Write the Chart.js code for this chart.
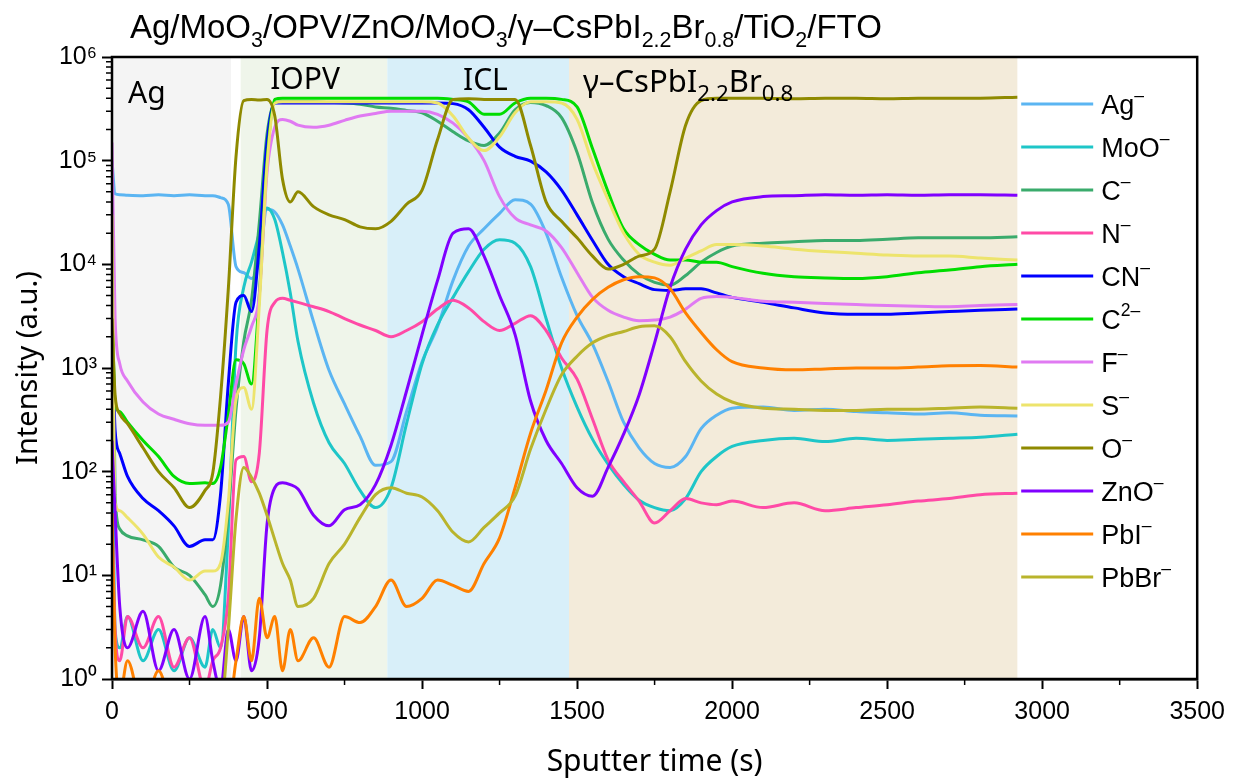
<!DOCTYPE html>
<html>
<head>
<meta charset="utf-8">
<title>ToF-SIMS depth profile</title>
<script src="https://cdn.jsdelivr.net/npm/chart.js@4.4.1/dist/chart.umd.min.js"></script>
<style>
  html, body { margin: 0; padding: 0; background: #fff; }
</style>
</head>
<body>
<canvas id="chart" width="1233" height="783"></canvas>
<script>
// sputter time (s) of every sample
const time = [0, 10, 25, 50,
  100, 150, 200, 250, 300,
  325, 350, 375, 400, 425, 450, 475, 500, 525, 550, 575, 600,
  650, 700, 750, 800, 850, 900, 950, 1000, 1050, 1100, 1150, 1200, 1250, 1300, 1350, 1400,
  1450, 1500, 1550, 1600, 1650, 1700, 1750, 1800, 1850, 1900, 1950, 2000,
  2100, 2200, 2300, 2400, 2500, 2600, 2700, 2800, 2920];

// counts per ion
const agIon = [1.0e5, 48000, 47000, 46500,
  46000, 47000, 46000, 47000, 46000,
  46000, 44000, 38000, 9500, 8300, 7300, 11000, 34000, 32000, 24000, 15000, 9000,
  2800, 950, 450, 220, 115, 125, 380, 1150, 2500, 7000, 15000, 22000, 31000, 42000, 38000, 20000,
  7500, 3200, 1700, 740, 300, 170, 120, 110, 140, 260, 350, 410,
  420, 390, 400, 380, 370, 360, 370, 350, 345];

const mooIon = [700, 3, 2, 4,
  1.5, 3, 1.2, 2.5, 1.3,
  3, 2, 27, 1700, 6000, 10500, 20000, 35000, 27000, 13000, 5300, 1800,
  460, 190, 120, 66, 45, 70, 290, 1100, 2600, 4800, 8500, 14000, 17300, 16000, 9500, 3000,
  1000, 420, 205, 118, 75, 53, 45, 42, 55, 100, 140, 175,
  200, 210, 195, 210, 200, 205, 210, 215, 230];

const cIon = [20000, 60, 28, 24,
  22, 19, 12, 10, 6.5,
  5, 8, 40, 400, 1800, 4500, 25000, 1.8e5, 3.6e5, 3.7e5, 3.7e5, 3.7e5,
  3.7e5, 3.65e5, 3.6e5, 3.5e5, 3.3e5, 3.2e5, 3.05e5, 2.9e5, 2.4e5, 1.9e5, 1.55e5, 1.4e5, 1.85e5, 3.1e5, 3.65e5, 3.4e5,
  2.6e5, 1.2e5, 39000, 17500, 11000, 8000, 6700, 6300, 7800, 10500, 13000, 15000,
  16000, 16500, 17000, 17000, 17500, 18000, 18000, 18000, 18500];

const nIon = [40, 3, 1.5, 4,
  2, 4, 1.3, 2.5, 0.8,
  1.5, 2, 6, 130, 140, 80, 150, 2300, 4300, 4700, 4500, 4300,
  3900, 3500, 3000, 2600, 2300, 2000, 2300, 2800, 3700, 4500, 3800, 2800, 2300, 2700, 3200, 2300,
  1250, 780, 320, 130, 80, 52, 32, 42, 55, 50, 48, 52,
  45, 50, 42, 45, 48, 52, 55, 60, 62];

const cnIon = [3000, 250, 150, 90,
  55, 42, 30, 19, 22,
  22, 60, 700, 4300, 5000, 3500, 15000, 1.5e5, 3.6e5, 3.6e5, 3.6e5, 3.6e5,
  3.6e5, 3.6e5, 3.6e5, 3.6e5, 3.6e5, 3.6e5, 3.6e5, 3.6e5, 3.6e5, 3.55e5, 3.1e5, 2.1e5, 1.35e5, 1.1e5, 9.9e4, 7.8e4,
  5.2e4, 3.0e4, 17000, 10000, 7600, 6500, 5700, 5600, 5800, 5800, 5300, 4800,
  4300, 3800, 3400, 3300, 3300, 3400, 3500, 3600, 3700];

const c2Ion = [5000, 450, 380, 300,
  200, 140, 90, 77, 78,
  77, 110, 350, 1200, 1100, 700, 5000, 1.0e5, 3.9e5, 4.0e5, 4.0e5, 4.0e5,
  4.0e5, 4.0e5, 4.0e5, 4.0e5, 4.0e5, 4.0e5, 4.0e5, 4.0e5, 4.0e5, 3.9e5, 3.7e5, 2.8e5, 2.8e5, 3.6e5, 4.0e5, 4.0e5,
  3.9e5, 3.3e5, 1.3e5, 50000, 22000, 15500, 12500, 11000, 11000, 10500, 10500, 9500,
  8200, 7600, 7400, 7300, 7600, 8300, 8800, 9500, 10000];

const fIon = [1.5e5, 3000, 1100, 750,
  470, 360, 320, 290, 280,
  280, 280, 300, 700, 1500, 2500, 5000, 7.7e4, 2.1e5, 2.5e5, 2.4e5, 2.2e5,
  2.1e5, 2.2e5, 2.45e5, 2.7e5, 2.85e5, 3.0e5, 3.0e5, 3.0e5, 2.8e5, 2.3e5, 1.65e5, 1.0e5, 45000, 28000, 24000, 21000,
  14500, 8300, 4800, 3600, 3100, 2850, 2900, 3100, 3700, 4700, 4900, 4800,
  4400, 4300, 4200, 4100, 4000, 3950, 3900, 4000, 4100];

const sIon = [30000, 50, 42, 36,
  25, 15, 12, 9, 11,
  11, 13, 50, 500, 650, 400, 4000, 9.0e4, 3.6e5, 3.7e5, 3.7e5, 3.7e5,
  3.7e5, 3.7e5, 3.7e5, 3.7e5, 3.7e5, 3.7e5, 3.7e5, 3.7e5, 3.6e5, 2.7e5, 1.65e5, 1.25e5, 1.7e5, 2.9e5, 3.7e5, 3.7e5,
  3.6e5, 2.5e5, 9.5e4, 42000, 20000, 12500, 10500, 9800, 11500, 13500, 15500, 15500,
  15000, 14000, 13300, 12800, 12300, 12000, 12000, 11500, 11000];

const oIon = [3000, 550, 360, 290,
  170, 100, 70, 45, 66,
  97, 525, 5700, 1.1e5, 3.8e5, 3.9e5, 3.85e5, 3.9e5, 2.7e5, 66000, 40000, 50000,
  36000, 30000, 27000, 23000, 22000, 26000, 38000, 52000, 1.6e5, 3.9e5, 3.95e5, 3.9e5, 3.9e5, 3.9e5, 1.4e5, 40000,
  26000, 18000, 12000, 9000, 10000, 12000, 14000, 50000, 2.2e5, 3.8e5, 4.0e5, 4.0e5,
  4.0e5, 3.95e5, 4.0e5, 4.0e5, 3.95e5, 4.0e5, 4.0e5, 4.0e5, 4.1e5];

const znoIon = [200, 40, 5, 2,
  4.5, 1.2, 3, 1, 4,
  1.5, 0.8, 3, 1.5, 4, 1.2, 2.5, 31, 70, 78, 75, 68,
  38, 30, 43, 48, 75, 180, 600, 2100, 7000, 20000, 22000, 12000, 5000, 2100, 480, 200,
  120, 70, 58, 110, 230, 550, 1750, 6000, 14000, 24000, 33000, 40000,
  45000, 46000, 47000, 46500, 47000, 46500, 47000, 47000, 46500];

const pbiIon = [40, 2, 0.7, 1.5,
  0.5, 1.2, 0.5, 0.8, 0.5,
  0.5, 0.6, 0.5, 1.5, 4, 1.5, 6, 2.5, 4, 1.2, 3, 1.5,
  2.5, 1.3, 4, 3.5, 5, 9, 5, 6, 9, 8, 7, 13, 23, 70, 235, 610,
  1750, 3100, 4600, 6000, 7100, 7600, 7400, 5800, 3400, 2200, 1500, 1150,
  1000, 960, 980, 1000, 1000, 1020, 1050, 1060, 1020];

const pbbrIon = [0.5, 0.5, 0.5, 0.5,
  0.5, 0.5, 0.5, 0.5, 0.5,
  0.5, 0.5, 3, 35, 110, 88, 62, 38, 22, 13, 9, 5,
  6, 13, 20, 36, 60, 70, 62, 57, 42, 26, 21, 29, 40, 58, 165, 400,
  860, 1300, 1750, 2050, 2250, 2500, 2550, 2000, 1150, 750, 560, 470,
  410, 400, 390, 390, 400, 400, 410, 420, 410];

// legend names and charges
const ionNames = ['Ag', 'MoO', 'C', 'N', 'CN', 'C', 'F', 'S', 'O', 'ZnO', 'PbI', 'PbBr'];
const ionCharges = ['–', '–', '–', '–', '–', '2–', '–', '–', '–', '–', '–', '–'];
const ionColors = ['#5bb5f2', '#1ec6c8', '#3aab6c', '#ff4aa6', '#0000ff', '#00dd00',
  '#e07af2', '#ede46c', '#8f8a00', '#8000ff', '#ff8000', '#b9b42c'];
const ionSeries = [agIon, mooIon, cIon, nIon, cnIon, c2Ion, fIon, sIon, oIon, znoIon, pbiIon, pbbrIon];

// layer bands (s)
const regionStart = [0, 415, 888, 1474];
const regionEnd = [384, 888, 1474, 2920];
const regionColor = ['#f4f4f4', '#eff5ea', '#d8eff9', '#f3ebda'];

const yTicks = [1, 10, 100, 1000, 10000, 100000, 1000000];
const supDigits = ['⁰', '¹', '²', '³', '⁴', '⁵', '⁶'];

const ARIAL = "'Liberation Sans', Arial, sans-serif";
const SEGOE = "'Noto Sans', 'Open Sans', sans-serif";

// draws text with sub (-1) / super (1) script parts
function drawRich(ctx, x, y, parts, size, family, scale) {
  const k = scale || 0.65;
  let cx = x;
  parts.forEach(([txt, mode]) => {
    const s = mode ? size * k : size;
    ctx.font = s + 'px ' + family;
    const dy = mode === -1 ? size * 0.28 : (mode === 1 ? -size * 0.5 : 0);
    ctx.fillText(txt, cx, y + dy);
    cx += ctx.measureText(txt).width;
  });
  return cx - x;
}

const regionPlugin = {
  id: 'regions',
  beforeDatasetsDraw(chart) {
    const { ctx, chartArea: a, scales: { x } } = chart;
    ctx.save();
    regionStart.forEach((s, i) => {
      const x0 = x.getPixelForValue(s);
      const x1 = x.getPixelForValue(regionEnd[i]);
      ctx.fillStyle = regionColor[i];
      ctx.fillRect(x0, a.top, x1 - x0, a.bottom - a.top);
    });
    ctx.restore();
  }
};

const decorPlugin = {
  id: 'decor',
  afterDraw(chart) {
    const { ctx, chartArea: a, scales: { x, y } } = chart;
    ctx.save();

    // frame
    ctx.strokeStyle = '#000';
    ctx.lineWidth = 2.5;
    ctx.strokeRect(a.left, a.top, a.right - a.left, a.bottom - a.top);

    // minor ticks
    ctx.lineWidth = 1.5;
    ctx.beginPath();
    for (let e = 0; e < 6; e++) {
      for (let m = 2; m <= 9; m++) {
        const py = y.getPixelForValue(m * Math.pow(10, e));
        ctx.moveTo(a.left - 6, py);
        ctx.lineTo(a.left, py);
      }
    }
    for (let t = 250; t < 3500; t += 500) {
      const px = x.getPixelForValue(t);
      ctx.moveTo(px, a.bottom);
      ctx.lineTo(px, a.bottom + 6);
    }
    ctx.stroke();

    // title
    ctx.fillStyle = '#000';
    ctx.textBaseline = 'alphabetic';
    drawRich(ctx, a.left + 18, a.top - 19, [
      ['Ag/MoO', 0], ['3', -1], ['/OPV/ZnO/MoO', 0], ['3', -1], ['/γ–CsPbI', 0], ['2.2', -1],
      ['Br', 0], ['0.8', -1], ['/TiO', 0], ['2', -1], ['/FTO', 0]
    ], 33, ARIAL);

    // layer labels
    drawRich(ctx, x.getPixelForValue(52), a.top + 46, [['Ag', 0]], 30, SEGOE);
    drawRich(ctx, x.getPixelForValue(510), a.top + 32, [['IOPV', 0]], 30, SEGOE);
    drawRich(ctx, x.getPixelForValue(1132), a.top + 33, [['ICL', 0]], 30, SEGOE);
    drawRich(ctx, x.getPixelForValue(1519), a.top + 35,
      [['γ–CsPbI', 0], ['2.2', -1], ['Br', 0], ['0.8', -1]], 31, SEGOE, 0.72);

    // legend
    ionNames.forEach((name, i) => {
      const ly = a.top + 47 + i * 43;
      ctx.strokeStyle = ionColors[i];
      ctx.lineWidth = 3;
      ctx.beginPath();
      ctx.moveTo(a.right - 176, ly);
      ctx.lineTo(a.right - 104, ly);
      ctx.stroke();
      ctx.fillStyle = '#000';
      drawRich(ctx, a.right - 96, ly + 10, [[name, 0], [ionCharges[i], 1]], 27, ARIAL);
    });

    ctx.restore();
  }
};

const datasets = ionSeries.map((vals, i) => ({
  label: ionNames[i] + ionCharges[i],
  data: time.map((t, j) => ({ x: t, y: vals[j] })),
  borderColor: ionColors[i],
  backgroundColor: ionColors[i],
  borderWidth: 3,
  pointRadius: 0,
  fill: false,
  cubicInterpolationMode: 'monotone',
  order: ionSeries.length - i
}));

new Chart(document.getElementById('chart'), {
  type: 'line',
  data: { datasets },
  options: {
    responsive: false,
    devicePixelRatio: 1,
    animation: false,
    layout: { padding: { left: 0, right: 35, top: 57, bottom: 0 } },
    plugins: {
      legend: { display: false },
      title: { display: false },
      tooltip: { enabled: false }
    },
    scales: {
      x: {
        type: 'linear',
        min: 0,
        max: 3500,
        afterFit: (s) => { s.height = 104; },
        ticks: {
          stepSize: 500,
          callback: (v) => String(v),
          font: { family: ARIAL, size: 25 },
          color: '#000',
          padding: 8,
          maxRotation: 0
        },
        grid: { drawOnChartArea: false, drawTicks: true, tickLength: 10, tickWidth: 2, tickColor: '#000' },
        border: { display: true, color: '#000', width: 2.5 },
        title: {
          display: true,
          text: 'Sputter time (s)',
          font: { family: SEGOE, size: 30 },
          color: '#000',
          padding: { top: 0, bottom: 3 }
        }
      },
      y: {
        type: 'logarithmic',
        min: 1,
        max: 1e6,
        afterFit: (s) => { s.width = 112; },
        afterBuildTicks: (s) => { s.ticks = yTicks.map((v) => ({ value: v })); },
        ticks: {
          autoSkip: false,
          callback: (v) => '10' + supDigits[Math.round(Math.log10(v))],
          font: { family: ARIAL, size: 25 },
          color: '#000',
          padding: 5
        },
        grid: { drawOnChartArea: false, drawTicks: true, tickLength: 10, tickWidth: 2, tickColor: '#000' },
        border: { display: true, color: '#000', width: 2.5 },
        title: {
          display: true,
          text: 'Intensity (a.u.)',
          font: { family: SEGOE, size: 29 },
          color: '#000',
          padding: { top: 11, bottom: 0 }
        }
      }
    }
  },
  plugins: [regionPlugin, decorPlugin]
});
</script>
</body>
</html>
